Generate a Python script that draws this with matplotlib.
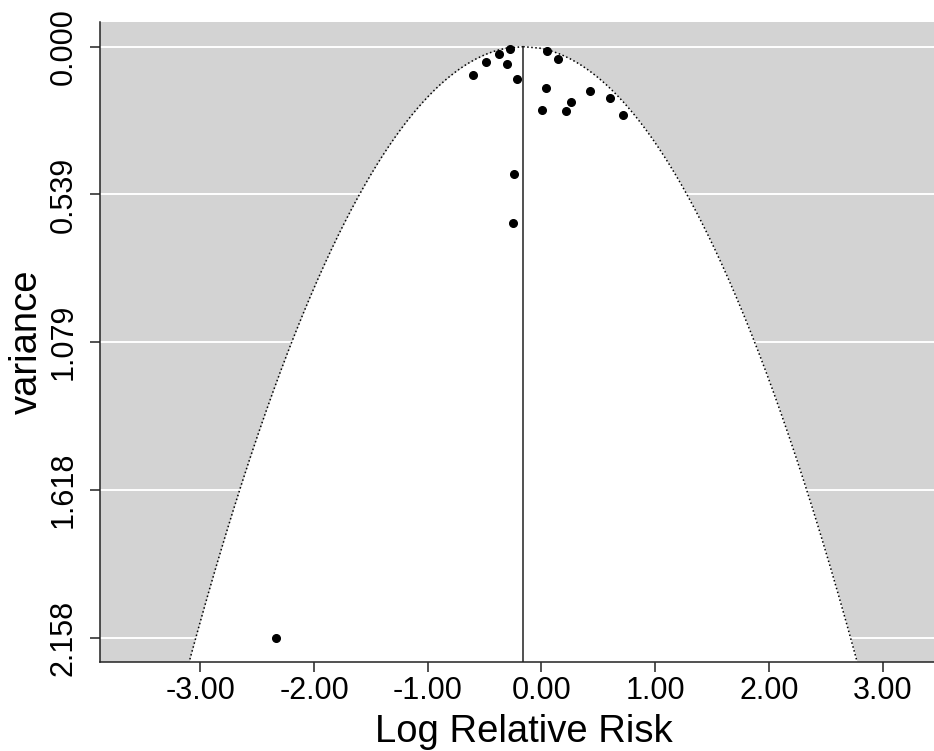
import numpy as np
import matplotlib
matplotlib.use("Agg")
import matplotlib.pyplot as plt

plt.rcParams['font.family'] = ['Liberation Sans', 'DejaVu Sans']
plt.rcParams['axes.unicode_minus'] = False

# Study estimates (log relative risk) and their sampling variances
log_rr = [-0.277, -0.371, -0.488, -0.303, -0.605, -0.215, 0.046, 0.145, 0.040,
          0.424, 0.600, 0.259, 0.002, 0.218, 0.714, -0.239, -0.253, -2.338]
variance = [0.008, 0.027, 0.055, 0.062, 0.104, 0.117, 0.016, 0.044, 0.152,
            0.163, 0.188, 0.203, 0.231, 0.235, 0.248, 0.466, 0.643, 2.158]

pooled_estimate = -0.161

x_ticks = [-3.0, -2.0, -1.0, 0.0, 1.0, 2.0, 3.0]
x_tick_labels = ["-3.00", "-2.00", "-1.00", "0.00", "1.00", "2.00", "3.00"]
y_ticks = [0.0, 0.5395, 1.079, 1.6185, 2.158]
y_tick_labels = ["0.000", "0.539", "1.079", "1.618", "2.158"]

fig = plt.figure(figsize=(9.34, 7.51), dpi=100)
# right edge sits slightly beyond the figure, like the cropped original
ax = fig.add_axes([99.5 / 934, (751 - 661.7) / 751, (947.5 - 99.5) / 934, (661.7 - 22) / 751])

y_bottom = 2.2453
y_top = -0.090
ax.set_ylim(y_bottom, y_top)
ax.set_xlim(-3.887, 3.571)
ax.set_facecolor('#d3d3d3')

# white grid lines at the y ticks
for yt in y_ticks:
    ax.axhline(yt, color='white', lw=1.4, zorder=1)

# pseudo confidence region of the funnel
vi_grid = np.linspace(0, y_bottom, 400)
half = 1.96 * np.sqrt(vi_grid)
ax.fill_betweenx(vi_grid, pooled_estimate - half, pooled_estimate + half,
                 color='white', lw=0, zorder=2)
ax.plot(pooled_estimate - half, vi_grid, color='black', ls=':', lw=1.1, zorder=3)
ax.plot(pooled_estimate + half, vi_grid, color='black', ls=':', lw=1.1, zorder=3)
ax.plot([pooled_estimate, pooled_estimate], [0, y_bottom], color='#222222', lw=1.1, zorder=3)

ax.plot(log_rr, variance, 'o', color='black', ms=5.5, zorder=4)

for side in ['top', 'right']:
    ax.spines[side].set_visible(False)
for side in ['left', 'bottom']:
    ax.spines[side].set_linewidth(1.1)
    ax.spines[side].set_color('#222222')

ax.set_xticks(x_ticks)
ax.set_xticklabels(x_tick_labels, fontsize=22)
ax.set_yticks(y_ticks)
ax.set_yticklabels(y_tick_labels, fontsize=22, rotation=90, va='center')
ax.tick_params(axis='both', length=7, width=1.1, color='#222222')
ax.tick_params(axis='x', pad=3)
ax.tick_params(axis='y', pad=8)

ax.set_xlabel('Log Relative Risk', fontsize=27.5, labelpad=6)
ax.set_ylabel('variance', fontsize=27.5, labelpad=3)

fig.savefig('out.png', dpi=100)
